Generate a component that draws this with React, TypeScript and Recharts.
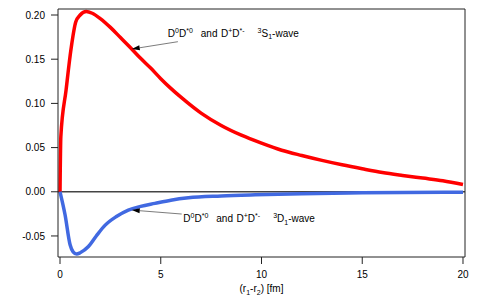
import React from "react";
import {
  LineChart,
  Line,
  XAxis,
  YAxis,
  ReferenceLine,
  ReferenceDot,
  Label,
} from "recharts";

// 3S1 wave (red)
const sWaveR = [0, 0.04, 0.3, 0.55, 0.78, 1.0, 1.3, 1.6, 2.0, 2.5, 3.0, 3.5, 4.0, 4.5, 5.0, 5.5, 6.0, 7.0, 8.0, 9.0, 10.0, 11.0, 12.0, 13.0, 14.0, 15.0, 16.0, 17.0, 18.0, 19.0, 20.0];
const sWaveV = [0, 0.062, 0.115, 0.162, 0.192, 0.2, 0.204, 0.202, 0.196, 0.186, 0.1745, 0.163, 0.151, 0.14, 0.128, 0.117, 0.107, 0.089, 0.075, 0.064, 0.055, 0.047, 0.041, 0.0355, 0.0305, 0.026, 0.0218, 0.0185, 0.0155, 0.0125, 0.0082];

// 3D1 wave (blue)
const dWaveR = [0, 0.25, 0.5, 0.65, 0.83, 1.0, 1.41, 1.8, 2.23, 2.8, 3.39, 4.0, 4.71, 5.5, 6.37, 8.0, 9.7, 12.0, 15.0, 20.0];
const dWaveV = [0, -0.026, -0.06, -0.068, -0.0705, -0.069, -0.062, -0.05, -0.038, -0.028, -0.0207, -0.0165, -0.0131, -0.0095, -0.0068, -0.0048, -0.0035, -0.0022, -0.0012, -0.0005];

const xTicks = [0, 5, 10, 15, 20];
const yTicks = [-0.05, 0, 0.05, 0.1, 0.15, 0.2];

const sData = sWaveR.map((x, i) => ({ x, v: sWaveV[i] }));
const dData = dWaveR.map((x, i) => ({ x, v: dWaveV[i] }));

type Part = { t: string; s?: "sup" | "sub"; gap?: number };

const sLabel: Part[] = [
  { t: "D" }, { t: "0", s: "sup" }, { t: "D" }, { t: "*0", s: "sup" },
  { t: "and", gap: 8 }, { t: "D", gap: 3.5 }, { t: "+", s: "sup" }, { t: "D" }, { t: "*-", s: "sup" },
  { t: "3", s: "sup", gap: 13 }, { t: "S" }, { t: "1", s: "sub" }, { t: "-wave" },
];
const dLabel: Part[] = [
  { t: "D" }, { t: "0", s: "sup" }, { t: "D" }, { t: "*0", s: "sup" },
  { t: "and", gap: 8 }, { t: "D", gap: 3.5 }, { t: "+", s: "sup" }, { t: "D" }, { t: "*-", s: "sup" },
  { t: "3", s: "sup", gap: 13 }, { t: "D" }, { t: "1", s: "sub" }, { t: "-wave" },
];
const axisTitle: Part[] = [
  { t: "(r" }, { t: "1", s: "sub" }, { t: "-r" }, { t: "2", s: "sub" }, { t: ") [fm]" },
];

function RichText({ x, y, parts, anchor = "start" }: { x: number; y: number; parts: Part[]; anchor?: string }) {
  let cur = 0;
  return (
    <text x={x} y={y} fontSize={10} fill="#000" textAnchor={anchor}>
      {parts.map((p, i) => {
        const target = p.s === "sup" ? -4 : p.s === "sub" ? 2.5 : 0;
        const dy = target - cur;
        cur = target;
        return (
          <tspan key={i} dy={dy} dx={p.gap || 0} fontSize={p.s ? 7 : 10}>
            {p.t}
          </tspan>
        );
      })}
    </text>
  );
}

function Arrow(props: any) {
  const { x1, y1, x2, y2 } = props;
  const dx = x2 - x1;
  const dy = y2 - y1;
  const len = Math.sqrt(dx * dx + dy * dy) || 1;
  const ux = dx / len;
  const uy = dy / len;
  const bx = x2 - ux * 8;
  const by = y2 - uy * 8;
  const pts = `${x2},${y2} ${bx - uy * 2.5},${by + ux * 2.5} ${bx + uy * 2.5},${by - ux * 2.5}`;
  return (
    <g>
      <line x1={x1} y1={y1} x2={bx} y2={by} stroke="#444" strokeWidth={0.7} />
      <polygon points={pts} fill="#000" />
    </g>
  );
}

export default function App() {
  return (
    <div style={{ position: "absolute", left: 0, top: 0, fontFamily: "'Liberation Sans', Arial, sans-serif" }}>
      <LineChart width={488} height={295} margin={{ top: 0, right: 0, bottom: 0, left: 0 }}>
        <XAxis
          dataKey="x"
          type="number"
          domain={[-0.1, 20.1]}
          ticks={xTicks}
          allowDataOverflow
          tickSize={7}
          tickMargin={7}
          height={38}
          stroke="#222"
          tick={{ fill: "#000", fontSize: 10 }}
        >
          <Label
            content={(p: any) => {
              const vb = p.viewBox || { x: 58, y: 257, width: 407 };
              return <RichText x={vb.x + vb.width / 2} y={vb.y + 35} parts={axisTitle} anchor="middle" />;
            }}
          />
        </XAxis>
        <XAxis
          xAxisId="top"
          orientation="top"
          dataKey="x"
          type="number"
          domain={[-0.1, 20.1]}
          ticks={xTicks}
          allowDataOverflow
          tick={false}
          tickSize={9}
          height={9}
          stroke="#222"
        />
        <YAxis
          type="number"
          domain={[-0.0738, 0.2068]}
          ticks={yTicks}
          allowDataOverflow
          width={58}
          tickSize={7}
          tickMargin={6}
          stroke="#222"
          tick={{ fill: "#000", fontSize: 10 }}
          tickFormatter={(v: number) => v.toFixed(2)}
        />
        <YAxis
          yAxisId="right"
          orientation="right"
          type="number"
          domain={[-0.0738, 0.2068]}
          ticks={yTicks}
          allowDataOverflow
          width={23}
          tickSize={8}
          tick={false}
          stroke="#222"
        />
        <ReferenceLine y={0} stroke="#444" strokeWidth={1.5} />
        <Line
          data={sData}
          dataKey="v"
          type="monotone"
          stroke="#ff0000"
          strokeWidth={3.5}
          dot={false}
          isAnimationActive={false}
        />
        <Line
          data={dData}
          dataKey="v"
          type="monotone"
          stroke="#4169e1"
          strokeWidth={3.5}
          dot={false}
          isAnimationActive={false}
        />
        <ReferenceLine
          segment={[{ x: 5.85, y: 0.1698 }, { x: 3.56, y: 0.1615 }]}
          shape={Arrow}
        />
        <ReferenceLine
          segment={[{ x: 6.04, y: -0.0252 }, { x: 3.56, y: -0.0207 }]}
          shape={Arrow}
        />
        <ReferenceDot
          x={5.35}
          y={0.1754}
          r={0}
          shape={(p: any) => <RichText x={p.cx} y={p.cy} parts={sLabel} />}
        />
        <ReferenceDot
          x={6.12}
          y={-0.0346}
          r={0}
          shape={(p: any) => <RichText x={p.cx} y={p.cy} parts={dLabel} />}
        />
      </LineChart>
    </div>
  );
}
